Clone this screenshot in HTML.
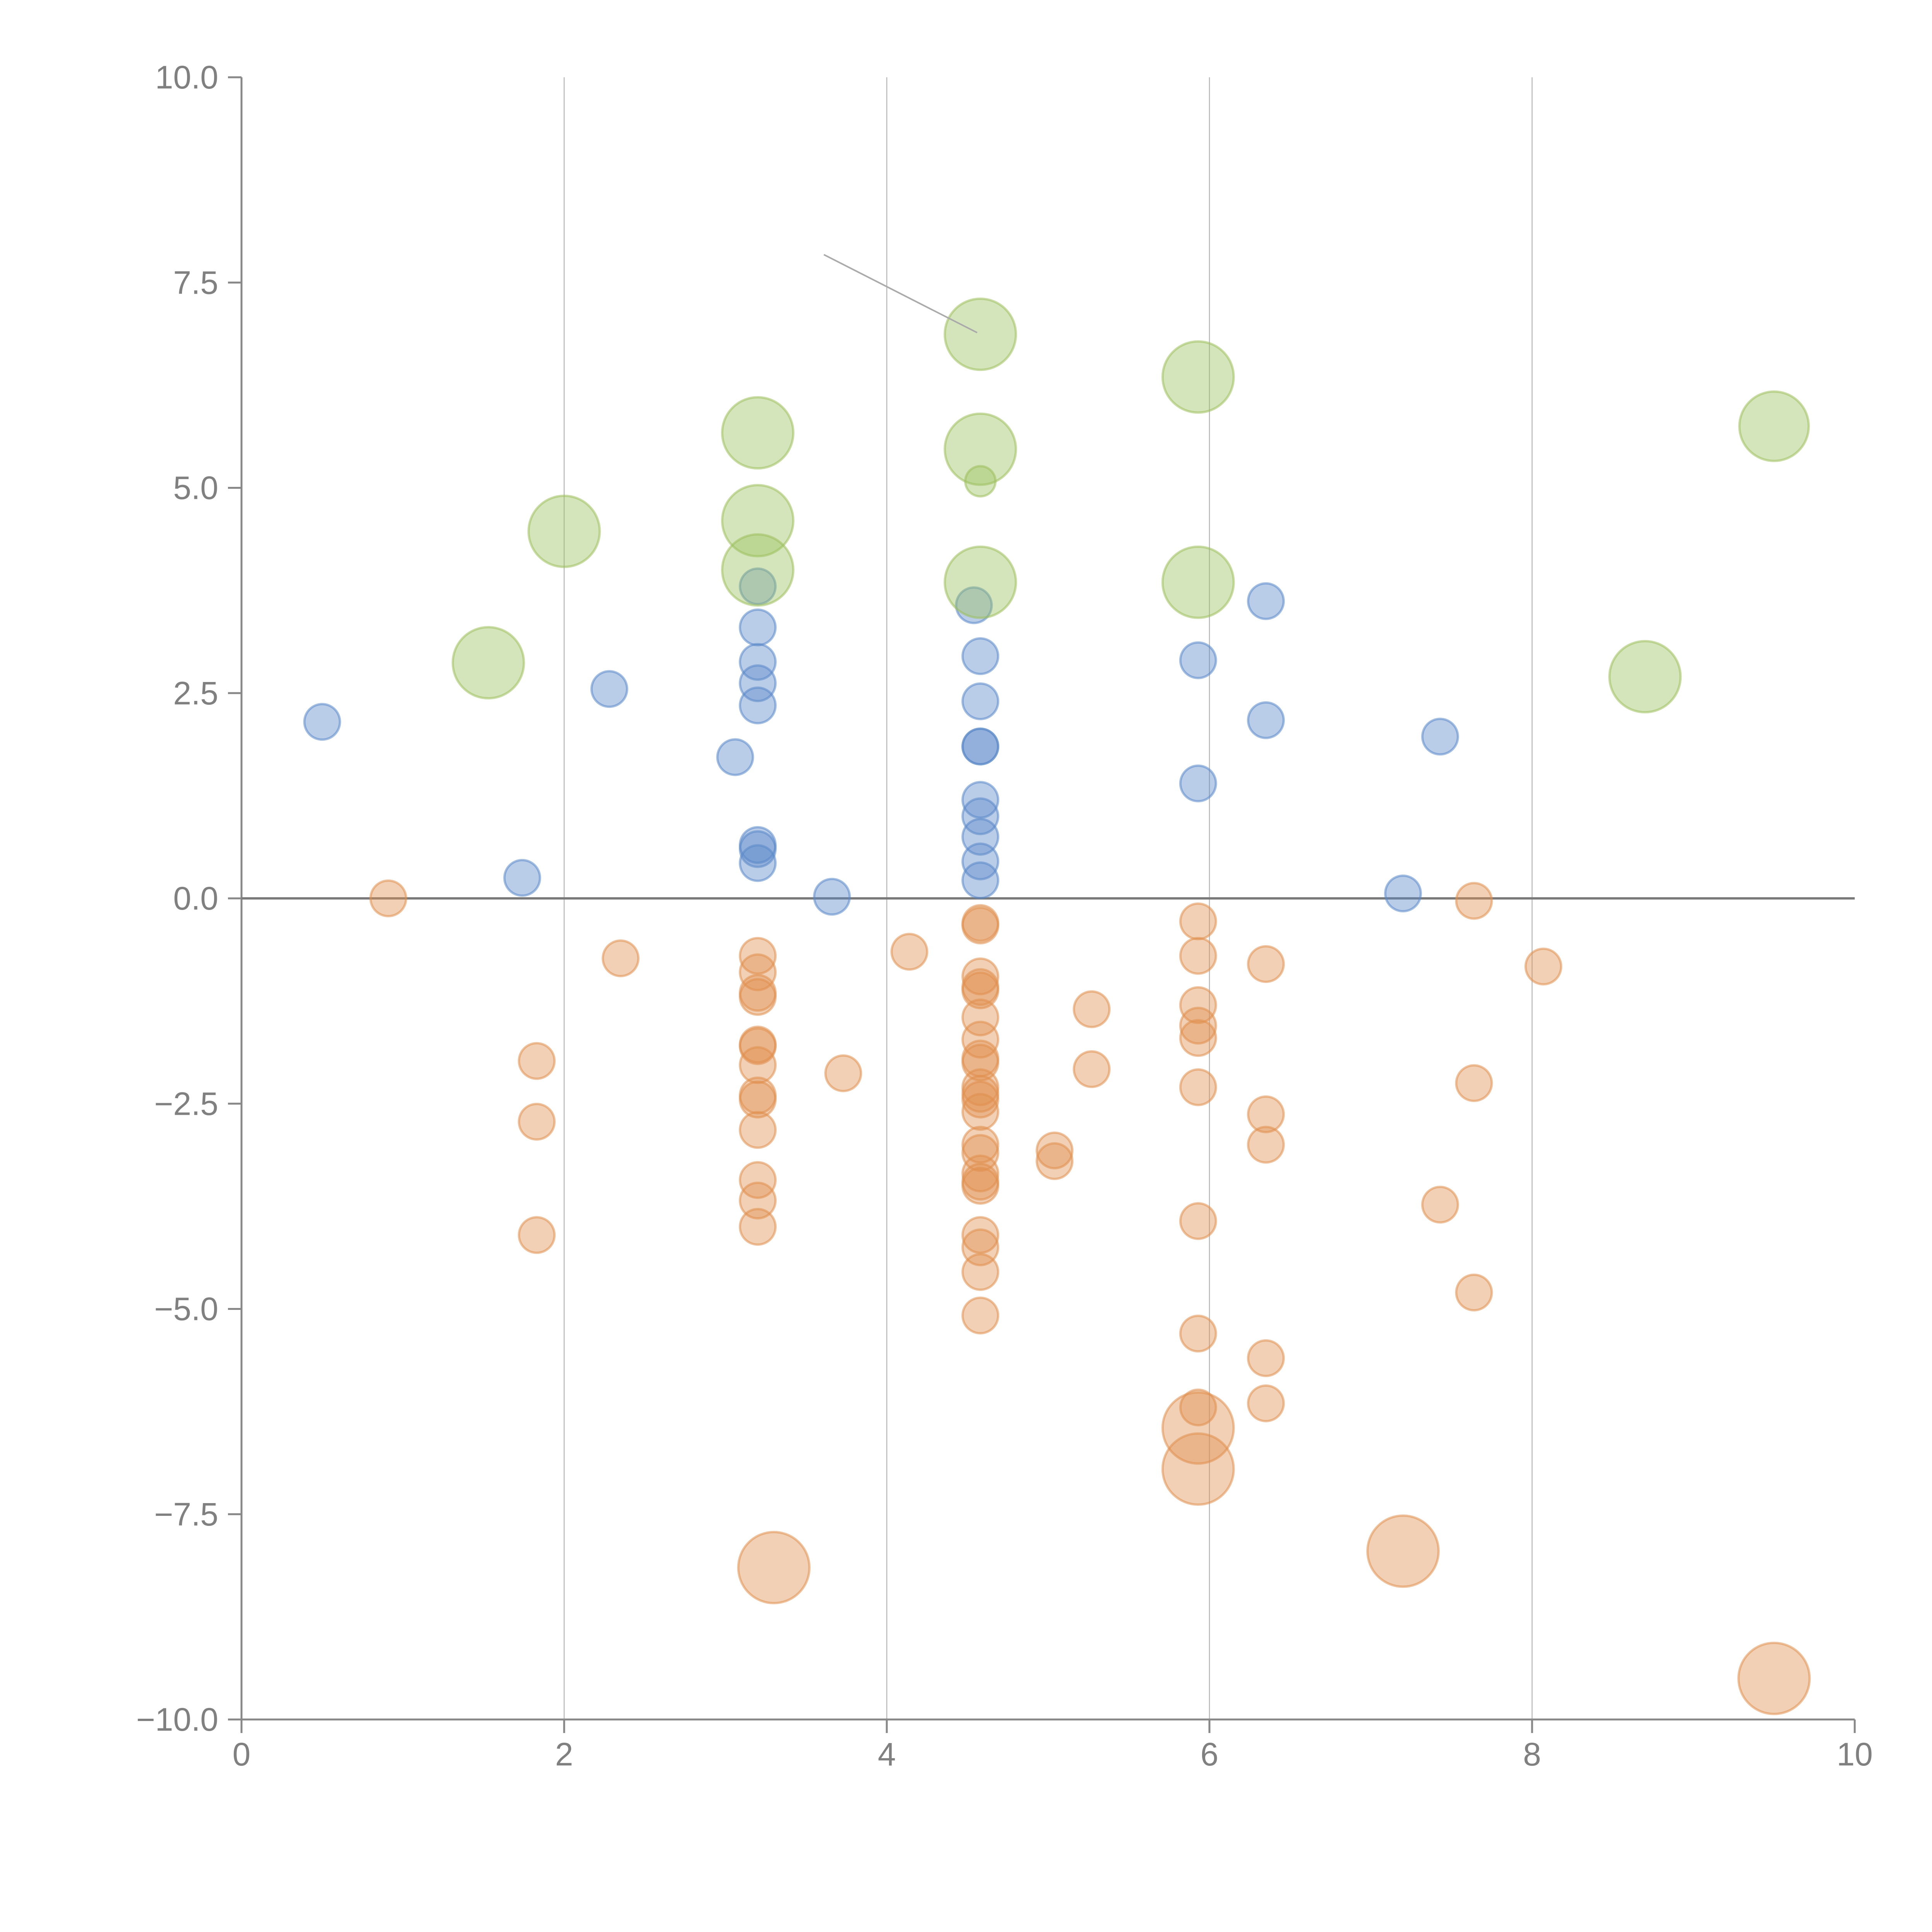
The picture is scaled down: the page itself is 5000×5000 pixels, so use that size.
<!DOCTYPE html>
<html><head><meta charset="utf-8"><style>html,body{margin:0;padding:0;background:#fff}svg{display:block}</style></head>
<body>
<svg id="chart" width="5000" height="5000" xmlns="http://www.w3.org/2000/svg" font-family="Liberation Sans, Arial, sans-serif">
<g id="grid"></g>
<g id="axes"></g>
<g id="marks"></g>
</svg>
<script>
const xTicks = [0, 2, 4, 6, 8, 10];
const yTicks = [-10, -7.5, -5, -2.5, 0, 2.5, 5, 7.5, 10];
const yTickLabels = ["\u221210.0", "\u22127.5", "\u22125.0", "\u22122.5", "0.0", "2.5", "5.0", "7.5", "10.0"];
const blueX = [0.5,1.74,2.28,3.06,3.2,3.2,3.2,3.2,3.2,3.2,3.2,3.2,3.66,4.54,4.58,4.58,4.58,4.58,4.58,4.58,4.58,4.58,4.58,5.93,5.93,6.35,6.35,7.43,7.2];
const blueY = [2.15,0.25,2.55,1.72,3.8,3.3,2.88,2.62,2.35,0.65,0.6,0.43,0.02,3.57,2.95,2.4,1.85,1.85,1.2,1.0,0.75,0.45,0.22,2.9,1.4,3.62,2.17,1.97,0.06];
const blueS = [1,1,1,1,1,1,1,1,1,1,1,1,1,1,1,1,1,1,1,1,1,1,1,1,1,1,1,1,1];
const greenX = [1.53,2.0,3.2,3.2,3.2,4.58,4.58,4.58,4.58,5.93,5.93,8.7,9.5];
const greenY = [2.87,4.47,5.67,4.6,4.0,6.87,5.47,5.08,3.85,6.35,3.85,2.7,5.75];
const greenS = [2,2,2,2,2,2,2,0.85,2,2,2,2,1.95];
const orangeX = [0.91,1.83,1.83,1.83,2.35,3.2,3.2,3.2,3.2,3.2,3.2,3.2,3.2,3.2,3.2,3.2,3.2,3.2,3.73,4.14,4.58,4.58,4.58,4.58,4.58,4.58,4.58,4.58,4.58,4.58,4.58,4.58,4.58,4.58,4.58,4.58,4.58,4.58,4.58,4.58,4.58,4.58,5.04,5.04,5.27,5.27,5.93,5.93,5.93,5.93,5.93,5.93,5.93,5.93,5.93,6.35,6.35,6.35,6.35,6.35,7.43,7.64,7.64,7.64,8.07,3.3,5.93,5.93,7.2,9.5];
const orangeY = [0,-1.98,-2.72,-4.1,-0.73,-0.7,-0.9,-1.15,-1.2,-1.78,-1.8,-2.03,-2.4,-2.45,-2.82,-3.43,-3.68,-4.0,-2.13,-0.65,-0.3,-0.33,-0.95,-1.08,-1.12,-1.45,-1.72,-1.95,-2.0,-2.3,-2.38,-2.45,-2.6,-3.0,-3.1,-3.35,-3.45,-3.5,-4.1,-4.25,-4.55,-5.08,-3.07,-3.2,-1.35,-2.08,-0.28,-0.7,-1.3,-1.55,-1.7,-2.3,-3.93,-5.3,-6.2,-0.8,-2.63,-3.0,-5.6,-6.15,-3.73,-0.03,-2.25,-4.8,-0.83,-8.15,-6.45,-6.95,-7.95,-9.5];
const orangeS = [1,1,1,1,1,1,1,1,1,1,1,1,1,1,1,1,1,1,1,1,1,1,1,1,1,1,1,1,1,1,1,1,1,1,1,1,1,1,1,1,1,1,1,1,1,1,1,1,1,1,1,1,1,1,1,1,1,1,1,1,1,1,1,1,1,2,2,2,2,2];
const connectorX = [3.61, 4.56];
const connectorY = [7.84, 6.89];

const NS = "http://www.w3.org/2000/svg";
const X0 = 625, X1 = 4800, Y0 = 4450, Y1 = 200;
const sx = v => X0 + (v - 0) / 10 * (X1 - X0);
const sy = v => Y0 - (v + 10) / 20 * (Y0 - Y1);
const R = 46;
function mk(tag, attrs, parent) {
  const e = document.createElementNS(NS, tag);
  for (const k in attrs) e.setAttribute(k, attrs[k]);
  parent.appendChild(e);
  return e;
}
const grid = document.getElementById('grid');
const axes = document.getElementById('axes');
const marks = document.getElementById('marks');

xTicks.forEach(t => {
  if (t > 0 && t < 10) {
    const g = mk('line', {x1: sx(t), x2: sx(t), y1: Y1, y2: Y0, stroke: '#b5b5b5', 'stroke-width': 2.5}, grid);
    
    
  }
  const tk = mk('line', {x1: sx(t), x2: sx(t), y1: Y0, y2: Y0 + 35, stroke: '#888', 'stroke-width': 5}, axes);
  
  
  const tx = mk('text', {x: sx(t), y: Y0 + 90, 'font-size': 84, fill: '#808080', 'text-anchor': 'middle', 'dominant-baseline': 'central'}, axes);
  tx.textContent = String(t);
  
  
});
yTicks.forEach((t, i) => {
  const tk = mk('line', {x1: X0 - 35, x2: X0, y1: sy(t), y2: sy(t), stroke: '#888', 'stroke-width': 5}, axes);
  
  
  const tx = mk('text', {x: 565, y: sy(t), 'font-size': 84, fill: '#808080', 'text-anchor': 'end', 'dominant-baseline': 'central'}, axes);
  tx.textContent = yTickLabels[i];
  
  
});
const ya = mk('line', {x1: X0, x2: X0, y1: Y1, y2: Y0, stroke: '#888', 'stroke-width': 5}, axes);


const xa = mk('line', {x1: X0, x2: X1, y1: Y0, y2: Y0, stroke: '#888', 'stroke-width': 5}, axes);


const zl = mk('line', {x1: X0, x2: X1, y1: sy(0), y2: sy(0), stroke: '#7a7a7a', 'stroke-width': 6}, axes);



function series(xs, ys, ss, fill, name) {
  xs.forEach((x, i) => {
    const c = mk('circle', {cx: sx(x), cy: sy(ys[i]), r: R * ss[i], fill: fill, 'fill-opacity': 0.42, stroke: fill, 'stroke-opacity': 0.55, 'stroke-width': 6}, marks);
    
    
  });
}
series(blueX, blueY, blueS, '#5a88c8', 'bubble-blue');
series(orangeX, orangeY, orangeS, '#e0904e', 'bubble-orange');
series(greenX, greenY, greenS, '#9cc05c', 'bubble-green');

const cl = mk('line', {x1: sx(connectorX[0]), y1: sy(connectorY[0]), x2: sx(connectorX[1]), y2: sy(connectorY[1]), stroke: '#aaa', 'stroke-width': 4}, marks);


</script>
</body></html>
